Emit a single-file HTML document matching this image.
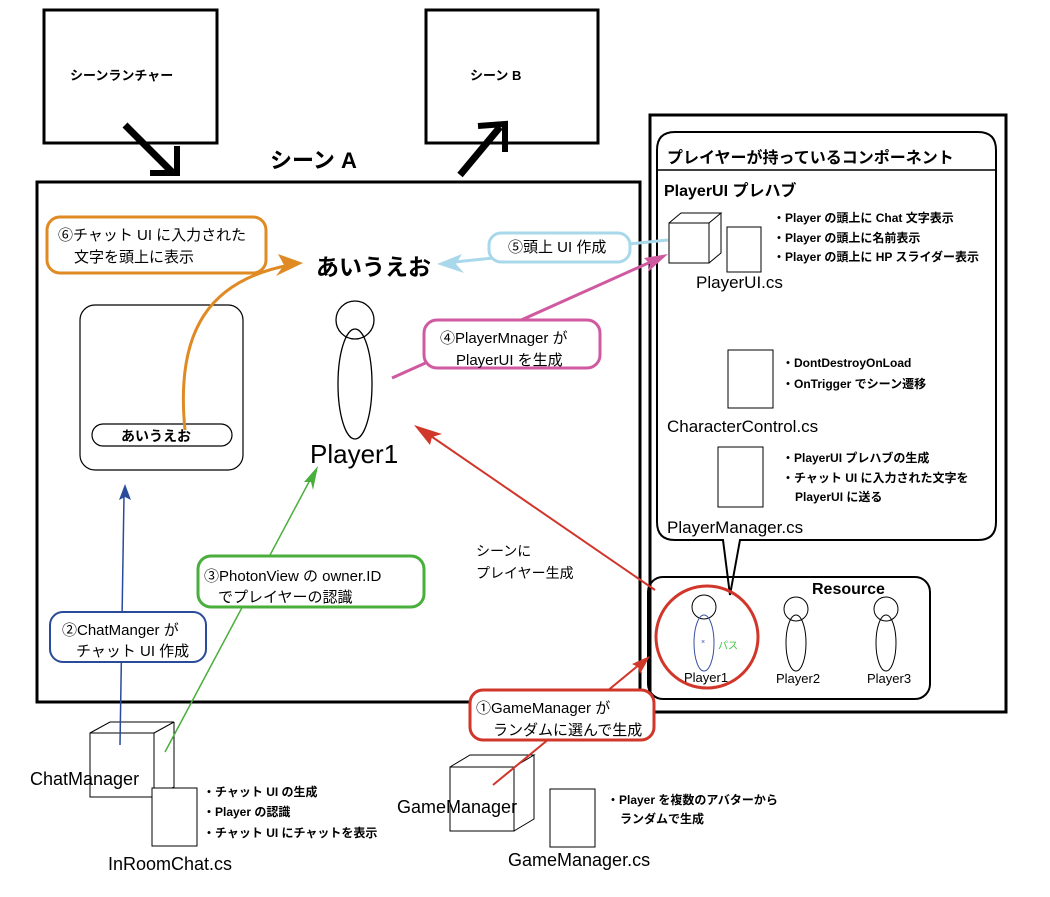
<!DOCTYPE html>
<html><head><meta charset="utf-8"><style>body{margin:0;background:#fff}svg{display:block}text{font-family:"Liberation Sans","Noto Sans CJK JP",sans-serif}</style></head><body>
<svg width="1050" height="897" viewBox="0 0 1050 897" xmlns="http://www.w3.org/2000/svg">
<defs>
<marker id="mo" markerWidth="10" markerHeight="10" refX="8" refY="5" orient="auto" markerUnits="userSpaceOnUse" viewBox="0 0 10 10"><path d="M0,0 L10,5 L0,10 L3,5z" fill="#e08a24"/></marker>
</defs>
<g fill="none" stroke="#000">
<rect x="44" y="10" width="173" height="133" stroke-width="3"/>
<rect x="426" y="10" width="172" height="133" stroke-width="3"/>
<rect x="37" y="182" width="603" height="520" stroke-width="3"/>
<path d="M125,125 L172,172" stroke-width="7"/><path d="M150,173 L177,173 L177,146" stroke-width="6"/>
<path d="M460,175 L500,127" stroke-width="7"/><path d="M478,126 L505,124 L505,152" stroke-width="6"/>
<rect x="650" y="115" width="356" height="597" stroke-width="3"/>
<path d="M675,132 H978 Q996,132 996,150 V522 Q996,540 978,540 H740 L730,595 L723,540 H675 Q657,540 657,522 V150 Q657,132 675,132Z" stroke-width="2" fill="#fff"/>
<line x1="657" y1="170" x2="996" y2="170" stroke-width="1.5"/>
<rect x="648" y="577" width="282" height="122" rx="15" stroke-width="2"/>
<rect x="80" y="305" width="163" height="165" rx="15" stroke-width="1.2"/>
<rect x="92" y="424" width="140" height="22" rx="11" stroke-width="1.2"/>
<circle cx="355" cy="320" r="19" stroke-width="1.3"/>
<ellipse cx="355" cy="384" rx="17" ry="55" stroke-width="1.3"/>
<!-- cubes -->
<path d="M90,733 H154 V797 H90Z M90,733 L110,722 H174 L154,733 M174,722 V787 L154,797" stroke-width="1"/>
<rect x="152" y="788" width="45" height="58" stroke-width="1" fill="#fff"/>
<path d="M450,767 H514 V831 H450Z M450,767 L470,755 H534 L514,767 M534,755 V819 L514,831" stroke-width="1"/>
<rect x="550" y="789" width="45" height="58" stroke-width="1"/>
<path d="M669,223 H709 V263 H669Z M669,223 L681,213 H721 L709,223 M721,213 V253 L709,263" stroke-width="1"/>
<rect x="727" y="227" width="34" height="45" stroke-width="1"/>
<rect x="728" y="350" width="45" height="58" stroke-width="1"/>
<rect x="718" y="447" width="45" height="60" stroke-width="1"/>
<!-- resource players -->
<circle cx="704" cy="607" r="12" stroke-width="1"/>
<ellipse cx="704" cy="643" rx="10" ry="28" stroke="#3a4fa0" stroke-width="1"/>
<circle cx="796" cy="609" r="12" stroke-width="1"/><ellipse cx="796" cy="643" rx="10" ry="28" stroke-width="1"/>
<circle cx="886" cy="609" r="12" stroke-width="1"/><ellipse cx="886" cy="643" rx="10" ry="28" stroke-width="1"/>
<circle cx="707" cy="637" r="51" stroke="#d0362a" stroke-width="3"/>
</g>
<!-- connectors -->
<g fill="none" stroke-width="2">
<path d="M185,430 C175,330 210,280 290,265" stroke="#e08a24" stroke-width="3"/>
<path d="M668,240 L445,263" stroke="#a8d8ea" stroke-width="3"/>
<path d="M392,378 L655,260" stroke="#d05aa0" stroke-width="3"/>
<path d="M655,590 L425,432" stroke="#d0362a" stroke-width="2"/>
<path d="M165,752 L310,480" stroke="#4aae3c" stroke-width="1.5"/>
<path d="M120,745 L124,495" stroke="#2a4a9a" stroke-width="1.5"/>
<path d="M493,785 L640,664" stroke="#d0362a" stroke-width="2"/>
</g>
<g>
<path d="M303,263 L278,254 L284,265 L276,276Z" fill="#e08a24"/>
<path d="M437,264 L462,254 L456,264 L464,273Z" fill="#a8d8ea"/>
<path d="M668,254 L644,258 L650,264 L648,272Z" fill="#d05aa0"/>
<path d="M414,425 L430,445 L432,437 L442,434Z" fill="#d0362a"/>
<path d="M318,466 L304,482 L311,482 L313,490Z" fill="#4aae3c"/>
<path d="M125,484 L119,500 L125,497 L131,500Z" fill="#2a4a9a"/>
<path d="M650,656 L632,664 L638,667 L640,674Z" fill="#d0362a"/>
</g>
<!-- callouts -->
<g stroke-width="3" fill="#fff">
<rect x="47" y="217" width="219" height="56" rx="13" stroke="#e08a24"/>
<rect x="489" y="233" width="141" height="29" rx="12" stroke="#a8d8ea"/>
<rect x="424" y="320" width="176" height="48" rx="13" stroke="#d05aa0"/>
<rect x="198" y="556" width="226" height="51" rx="13" stroke="#4aae3c"/>
<rect x="50" y="612" width="156" height="50" rx="13" stroke="#2a4a9a" stroke-width="2"/>
<rect x="470" y="690" width="184" height="50" rx="13" stroke="#d0362a"/>
</g>
<g fill="#000">
<text x="70" y="80" font-size="13" font-weight="bold">シーンランチャー</text>
<text x="470" y="80" font-size="13" font-weight="bold">シーン B</text>
<text x="270" y="168" font-size="22" font-weight="bold">シーン A</text>
<g font-size="15"><text x="58" y="240">⑥チャット UI に入力された</text><text x="74" y="262">文字を頭上に表示</text>
<text x="508" y="252">⑤頭上 UI 作成</text>
<text x="440" y="343">④PlayerMnager が</text><text x="456" y="365">PlayerUI を生成</text>
<text x="204" y="581">③PhotonView の owner.ID</text><text x="218" y="602">でプレイヤーの認識</text>
<text x="62" y="635">②ChatManger が</text><text x="76" y="656">チャット UI 作成</text>
<text x="476" y="713">①GameManager が</text><text x="493" y="735">ランダムに選んで生成</text></g>
<text x="316" y="275" font-size="23" font-weight="bold">あいうえお</text>
<text x="121" y="441" font-size="14" font-weight="bold">あいうえお</text>
<text x="310" y="463" font-size="26">Player1</text>
<text x="476" y="556" font-size="14">シーンに</text><text x="476" y="578" font-size="14">プレイヤー生成</text>
<text x="30" y="785" font-size="18">ChatManager</text>
<text x="108" y="870" font-size="18">InRoomChat.cs</text>
<text x="397" y="813" font-size="18">GameManager</text>
<text x="508" y="866" font-size="18">GameManager.cs</text>
<g font-size="12" font-weight="bold"><text x="203" y="796">・チャット UI の生成</text><text x="203" y="816">・Player の認識</text><text x="203" y="837">・チャット UI にチャットを表示</text>
<text x="607" y="804">・Player を複数のアバターから</text><text x="620" y="823">ランダムで生成</text></g>
<text x="667" y="163" font-size="16" font-weight="bold">プレイヤーが持っているコンポーネント</text>
<text x="664" y="196" font-size="16" font-weight="bold">PlayerUI プレハブ</text>
<g font-size="12" font-weight="bold"><text x="773" y="222">・Player の頭上に Chat 文字表示</text><text x="773" y="242">・Player の頭上に名前表示</text><text x="773" y="261">・Player の頭上に HP スライダー表示</text>
<text x="782" y="367">・DontDestroyOnLoad</text><text x="782" y="388">・OnTrigger でシーン遷移</text>
<text x="782" y="462">・PlayerUI プレハブの生成</text><text x="782" y="482">・チャット UI に入力された文字を</text><text x="795" y="501">PlayerUI に送る</text></g>
<text x="696" y="288" font-size="17">PlayerUI.cs</text>
<text x="667" y="432" font-size="17">CharacterControl.cs</text>
<text x="667" y="533" font-size="17">PlayerManager.cs</text>
<text x="812" y="594" font-size="16" font-weight="bold">Resource</text>
<g font-size="13"><text x="684" y="682">Player1</text><text x="776" y="683">Player2</text><text x="867" y="683">Player3</text></g>
<text x="718" y="649" font-size="10" fill="#3fc23f">パス</text>
<text x="701" y="644" font-size="7" fill="#3a4fa0">×</text>
</g>
</svg>
</body></html>
